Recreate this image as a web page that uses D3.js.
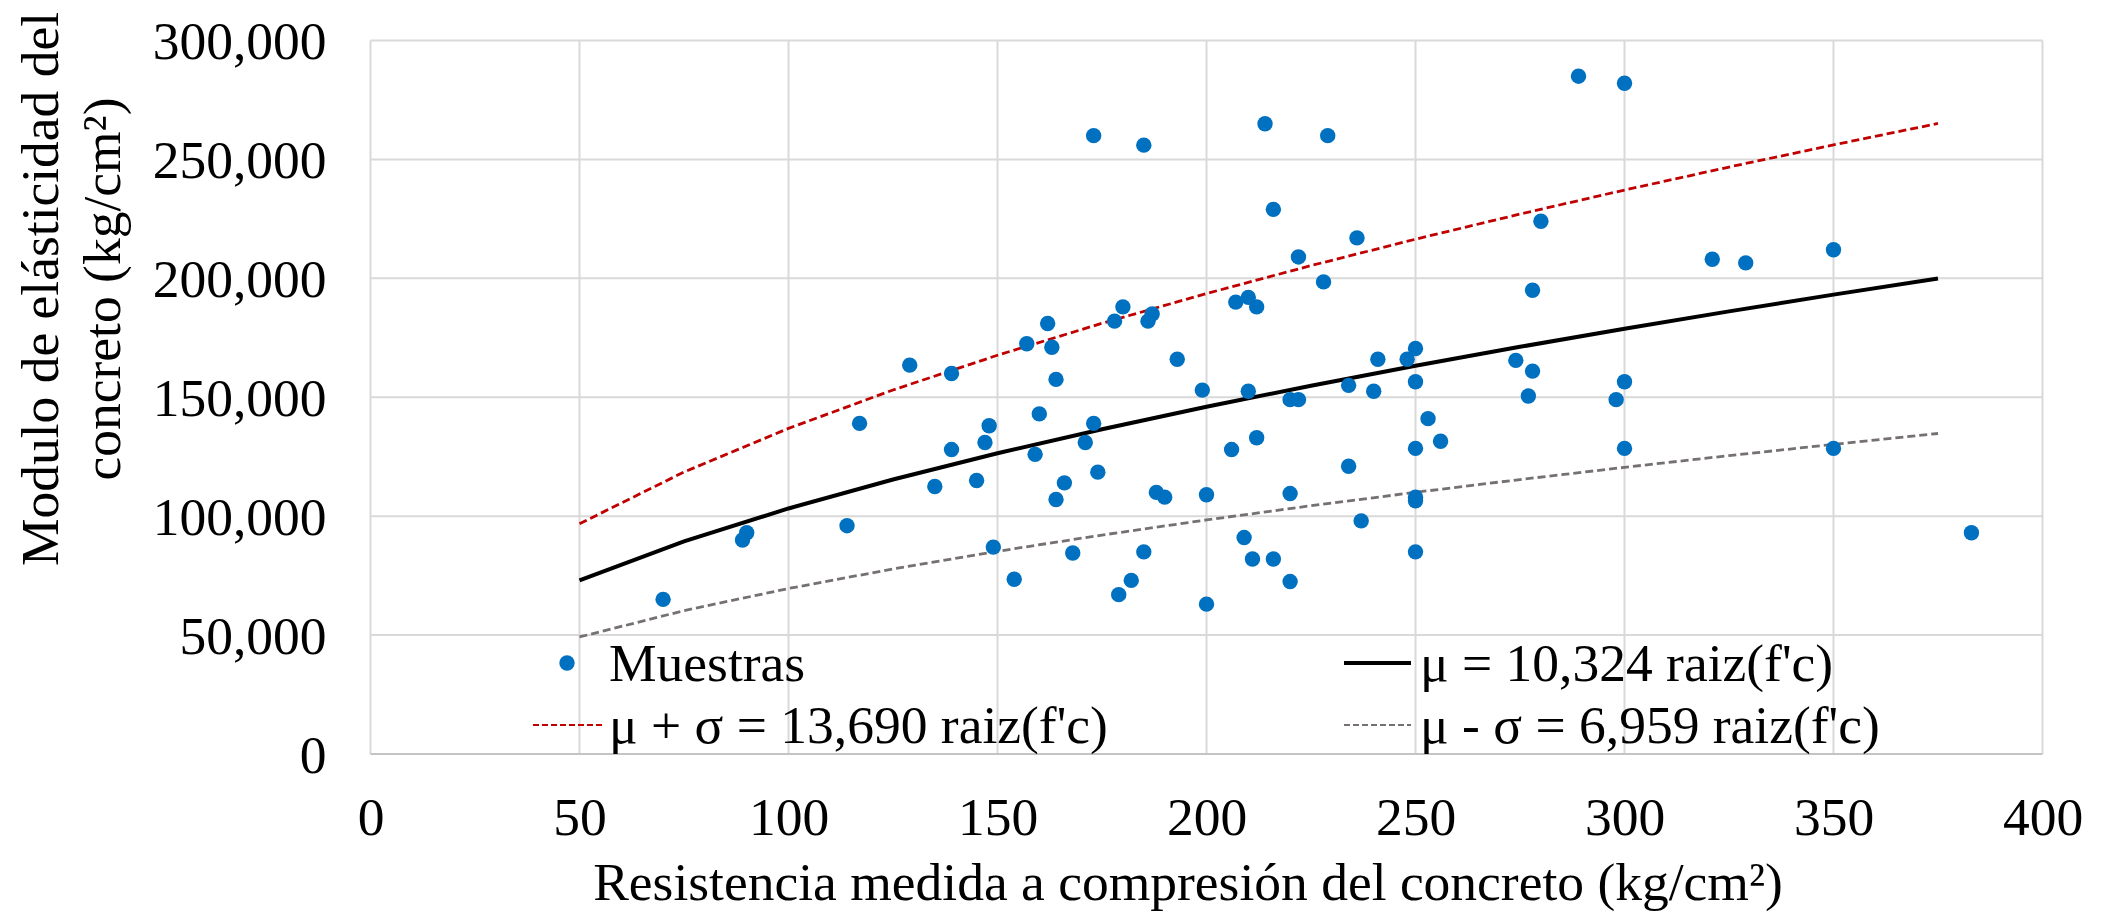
<!DOCTYPE html>
<html lang="es">
<head>
<meta charset="utf-8">
<title>Modulo de elasticidad vs resistencia a compresión</title>
<script src="https://cdn.jsdelivr.net/npm/d3@7/dist/d3.min.js"></script>
<style>
  html, body { margin: 0; padding: 0; background: #ffffff; }
  svg { display: block; }
  text { font-family: "Liberation Serif", "Times New Roman", serif; fill: #000; }
</style>
</head>
<body>
<svg id="chart" width="2105" height="912"></svg>
<script>
// Measured samples: compressive strength f'c (kg/cm²) and elastic modulus (kg/cm²)
const sampleStrength = [
  70, 89, 90, 114, 117, 129, 135, 139, 139, 145,
  147, 148, 149, 154, 157, 159, 160, 162, 163, 164,
  164, 166, 168, 171, 173, 173, 174, 178, 179, 180,
  182, 185, 185, 186, 187, 188, 190, 193, 199, 200,
  200, 206, 207, 209, 210, 210, 211, 212, 212, 214,
  216, 216, 220, 222, 220, 220, 222, 228, 229, 234,
  234, 236, 237, 240, 241, 248, 250, 250, 250, 250,
  250, 250, 253, 256, 274, 277, 278, 278, 280, 289,
  298, 300, 300, 300, 321, 329, 350, 350, 383
];
const sampleModulus = [
  65000, 90000, 93000, 96000, 139000, 163500, 112500, 160000, 128000, 115000,
  131000, 138000, 87000, 73500, 172500, 126000, 143000, 181000, 171000, 157500,
  107000, 114000, 84500, 131000, 260000, 139000, 118500, 182000, 67000, 188000,
  73000, 256000, 85000, 182000, 185000, 110000, 108000, 166000, 153000, 109000,
  63000, 128000, 190000, 91000, 192000, 152500, 82000, 188000, 133000, 265000,
  229000, 82000, 149000, 149000, 109500, 72500, 209000, 198500, 260000, 155000,
  121000, 217000, 98000, 152500, 166000, 166000, 170500, 156500, 128500, 108000,
  106500, 85000, 141000, 131500, 165500, 150500, 195000, 161000, 224000, 285000,
  149000, 282000, 156500, 128500, 208000, 206500, 212000, 128500, 93000
];

// Fitted curves E = k * sqrt(f'c), evaluated along these strengths
const curveStrength = [50, 75, 100, 125, 150, 175, 200, 225, 250, 275, 300, 325, 350, 375];
const coefMean = 10324;
const coefPlus = 13690;
const coefMinus = 6959;

// Axis ticks
const xTickValues = [0, 50, 100, 150, 200, 250, 300, 350, 400];
const yTickValues = [0, 50000, 100000, 150000, 200000, 250000, 300000];

// Labels
const xTitle = "Resistencia medida a compresión del concreto (kg/cm²)";
const yTitleLines = ["Modulo de elásticidad del", "concreto (kg/cm²)"];
const legendLabels = [
  "Muestras",
  "μ = 10,324 raiz(f'c)",
  "μ + σ = 13,690 raiz(f'c)",
  "μ - σ = 6,959 raiz(f'c)"
];

const svg = d3.select("#chart");
const plot = { left: 370.5, right: 2042.5, top: 40.5, bottom: 754 };

const x = d3.scaleLinear().domain([0, 400]).range([plot.left, plot.right]);
const y = d3.scaleLinear().domain([0, 300000]).range([plot.bottom, plot.top]);

const gridColor = "#D9D9D9";
const fontSize = 53.5;

// Gridlines
const grid = svg.append("g");
grid.selectAll("line.v").data(xTickValues).join("line")
  .attr("class", "v")
  .attr("x1", d => x(d)).attr("x2", d => x(d))
  .attr("y1", plot.top).attr("y2", plot.bottom)
  .attr("stroke", gridColor).attr("stroke-width", 2);
grid.selectAll("line.h").data(yTickValues).join("line")
  .attr("class", "h")
  .attr("x1", plot.left).attr("x2", plot.right)
  .attr("y1", d => y(d)).attr("y2", d => y(d))
  .attr("stroke", d => d === 0 ? "#C4C4C4" : gridColor).attr("stroke-width", 2);

// Axes (labels only; lines are drawn by the grid)
const fmt = d3.format(",");
const xAxis = svg.append("g")
  .attr("transform", `translate(0,${plot.bottom})`)
  .call(d3.axisBottom(x).tickValues(xTickValues).tickFormat(d3.format("d")).tickSize(0).tickPadding(0));
xAxis.select(".domain").remove();
xAxis.selectAll("text")
  .attr("y", 81).attr("dy", 0)
  .style("font-size", fontSize + "px")
  .style("font-family", "Liberation Serif, serif")
  .attr("fill", "#000");

const yAxis = svg.append("g")
  .attr("transform", `translate(${plot.left},0)`)
  .call(d3.axisLeft(y).tickValues(yTickValues).tickFormat(fmt).tickSize(0).tickPadding(0));
yAxis.select(".domain").remove();
yAxis.selectAll("text")
  .attr("x", -44).attr("dy", "0.34em")
  .style("font-size", fontSize + "px")
  .style("font-family", "Liberation Serif, serif")
  .attr("fill", "#000");

// Curves
const curveDefs = [
  { coef: coefPlus, color: "#C00000", width: 2.8, dash: "8,4" },
  { coef: coefMinus, color: "#767171", width: 2.8, dash: "8,4" },
  { coef: coefMean, color: "#000000", width: 4, dash: null }
];
const lineGen = d3.line().x(d => x(d[0])).y(d => y(d[1]));
svg.append("g").selectAll("path").data(curveDefs).join("path")
  .attr("d", c => lineGen(curveStrength.map(s => [s, c.coef * Math.sqrt(s)])))
  .attr("fill", "none")
  .attr("stroke", c => c.color)
  .attr("stroke-width", c => c.width)
  .attr("stroke-dasharray", c => c.dash);

// Sample points
const samples = sampleStrength.map((s, i) => [s, sampleModulus[i]]);
svg.append("g").selectAll("circle").data(samples).join("circle")
  .attr("cx", d => x(d[0]))
  .attr("cy", d => y(d[1]))
  .attr("r", 7.7)
  .attr("fill", "#0070C0");

// Legend
const legend = svg.append("g");
const row1 = 663, row2 = 725, textOff = 18;
legend.append("circle").attr("cx", 567).attr("cy", row1).attr("r", 7.7).attr("fill", "#0070C0");
legend.append("text").attr("x", 609).attr("y", row1 + textOff).style("font-size", fontSize + "px").text(legendLabels[0]);

legend.append("line").attr("x1", 1344).attr("x2", 1411).attr("y1", row1).attr("y2", row1)
  .attr("stroke", "#000").attr("stroke-width", 4);
legend.append("text").attr("x", 1420).attr("y", row1 + textOff).style("font-size", fontSize + "px").text(legendLabels[1]);

legend.append("line").attr("x1", 533).attr("x2", 604).attr("y1", row2).attr("y2", row2)
  .attr("stroke", "#C00000").attr("stroke-width", 2.2).attr("stroke-dasharray", "6,3");
legend.append("text").attr("x", 609).attr("y", row2 + textOff).style("font-size", fontSize + "px").text(legendLabels[2]);

legend.append("line").attr("x1", 1344).attr("x2", 1411).attr("y1", row2).attr("y2", row2)
  .attr("stroke", "#767171").attr("stroke-width", 2.2).attr("stroke-dasharray", "6,3");
legend.append("text").attr("x", 1420).attr("y", row2 + textOff).style("font-size", fontSize + "px").text(legendLabels[3]);

// Axis titles
svg.append("text")
  .attr("x", 1188)
  .attr("y", 900)
  .attr("text-anchor", "middle")
  .style("font-size", fontSize + "px")
  .text(xTitle);

const yTitle = svg.append("text")
  .attr("transform", "translate(58,289) rotate(-90)")
  .attr("text-anchor", "middle")
  .style("font-size", fontSize + "px");
yTitleLines.forEach((line, i) => {
  yTitle.append("tspan").attr("x", 0).attr("y", i * 62).text(line);
});
</script>
</body>
</html>
